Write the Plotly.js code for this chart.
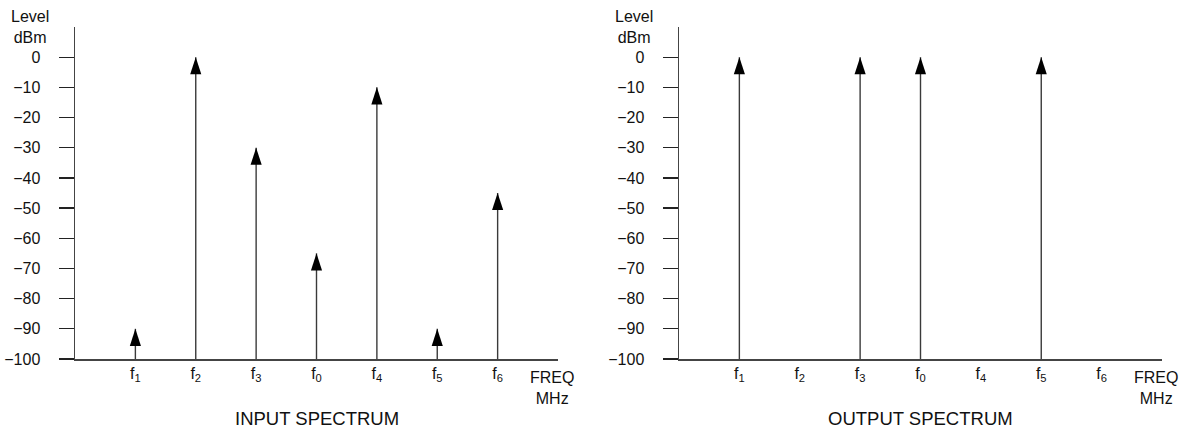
<!DOCTYPE html>
<html>
<head>
<meta charset="utf-8">
<script src="https://cdn.plot.ly/plotly-3.0.1.min.js"></script>
<style>html,body{margin:0;padding:0;background:#fff;}#chart{width:1185px;height:429px;}</style>
</head>
<body>
<div id="chart"></div>
<script>
// ---- data ----
const categories = ['f1', 'f2', 'f3', 'f0', 'f4', 'f5', 'f6'];
const tickLabels = ['f<sub>1</sub>', 'f<sub>2</sub>', 'f<sub>3</sub>', 'f<sub>0</sub>', 'f<sub>4</sub>', 'f<sub>5</sub>', 'f<sub>6</sub>'];
const inputLevels = [-90, 0, -30, -65, -10, -90, -45];
const outputLevels = [0, null, 0, 0, null, 0, null];
const levelTicks = [0, -10, -20, -30, -40, -50, -60, -70, -80, -90, -100];
const levelFloor = -100;
const levelTop = 10;

// ---- build traces ----
function stems(levels, xa, ya) {
  const xs = [], ys = [];
  levels.forEach((v, i) => {
    if (v === null) return;
    xs.push(categories[i], categories[i], null);
    ys.push(levelFloor, v, null);
  });
  return {
    x: xs, y: ys, xaxis: xa, yaxis: ya, type: 'scatter', mode: 'lines',
    line: {color: '#3a3a3a', width: 1.4}, hoverinfo: 'skip', showlegend: false
  };
}
function heads(levels, xa, ya) {
  const xs = [], ys = [];
  levels.forEach((v, i) => {
    if (v === null) return;
    xs.push(categories[i]);
    ys.push(v);
  });
  return {
    x: xs, y: ys, xaxis: xa, yaxis: ya, type: 'scatter', mode: 'markers',
    marker: {symbol: 'arrow', size: 18, color: '#000', line: {width: 0}},
    showlegend: false
  };
}

const data = [
  stems(inputLevels, 'x', 'y'), heads(inputLevels, 'x', 'y'),
  stems(outputLevels, 'x2', 'y2'), heads(outputLevels, 'x2', 'y2')
];

const W = 1185, H = 429;
const font = {family: '"Liberation Sans", Arial, sans-serif', color: '#111', size: 16};
function xAxis(d0, d1, anchor) {
  return {
    domain: [d0 / W, d1 / W], anchor: anchor, type: 'category',
    categoryarray: categories, range: [-1, 7],
    tickvals: categories, ticktext: tickLabels, ticks: '',
    tickfont: {size: 16, color: '#111'}, ticklabelstandoff: -1,
    showline: true, linecolor: '#444', linewidth: 1.5,
    showgrid: false, zeroline: false, automargin: false, fixedrange: true
  };
}
function yAxis(anchor) {
  return {
    domain: [(H - 359) / H, (H - 27) / H], anchor: anchor,
    range: [levelFloor, levelTop], tickvals: levelTicks,
    ticks: 'outside', ticklen: 15, tickcolor: '#222', tickwidth: 1.3,
    ticklabelstandoff: 15, tickfont: {size: 16, color: '#111'},
    showline: true, linecolor: '#444', linewidth: 1.5,
    showgrid: false, zeroline: false, automargin: false, fixedrange: true
  };
}

const layout = {
  width: W, height: H,
  margin: {l: 0, r: 0, t: 0, b: 0},
  paper_bgcolor: '#fff', plot_bgcolor: '#fff',
  font: font, showlegend: false,
  xaxis: xAxis(75, 558, 'y'),
  yaxis: yAxis('x'),
  xaxis2: xAxis(679, 1162, 'y2'),
  yaxis2: yAxis('x2'),
  annotations: [
    {text: 'Level<br>dBm', xref: 'paper', yref: 'paper', x: 30 / W, y: (H - 27) / H, xanchor: 'center', yanchor: 'middle', showarrow: false, font: {size: 16}},
    {text: 'Level<br>dBm', xref: 'paper', yref: 'paper', x: 634 / W, y: (H - 27) / H, xanchor: 'center', yanchor: 'middle', showarrow: false, font: {size: 16}},
    {text: 'FREQ<br>MHz', xref: 'paper', yref: 'paper', x: 552 / W, y: (H - 388) / H, xanchor: 'center', yanchor: 'middle', showarrow: false, font: {size: 16}},
    {text: 'FREQ<br>MHz', xref: 'paper', yref: 'paper', x: 1156 / W, y: (H - 388) / H, xanchor: 'center', yanchor: 'middle', showarrow: false, font: {size: 16}},
    {text: 'INPUT SPECTRUM', xref: 'x domain', yref: 'paper', x: 0.5, y: (H - 418) / H, xanchor: 'center', yanchor: 'middle', showarrow: false, font: {size: 18.5}},
    {text: 'OUTPUT SPECTRUM', xref: 'x2 domain', yref: 'paper', x: 0.5, y: (H - 418) / H, xanchor: 'center', yanchor: 'middle', showarrow: false, font: {size: 18.5}}
  ]
};

Plotly.newPlot('chart', data, layout, {displayModeBar: false, staticPlot: true});
</script>
</body>
</html>
